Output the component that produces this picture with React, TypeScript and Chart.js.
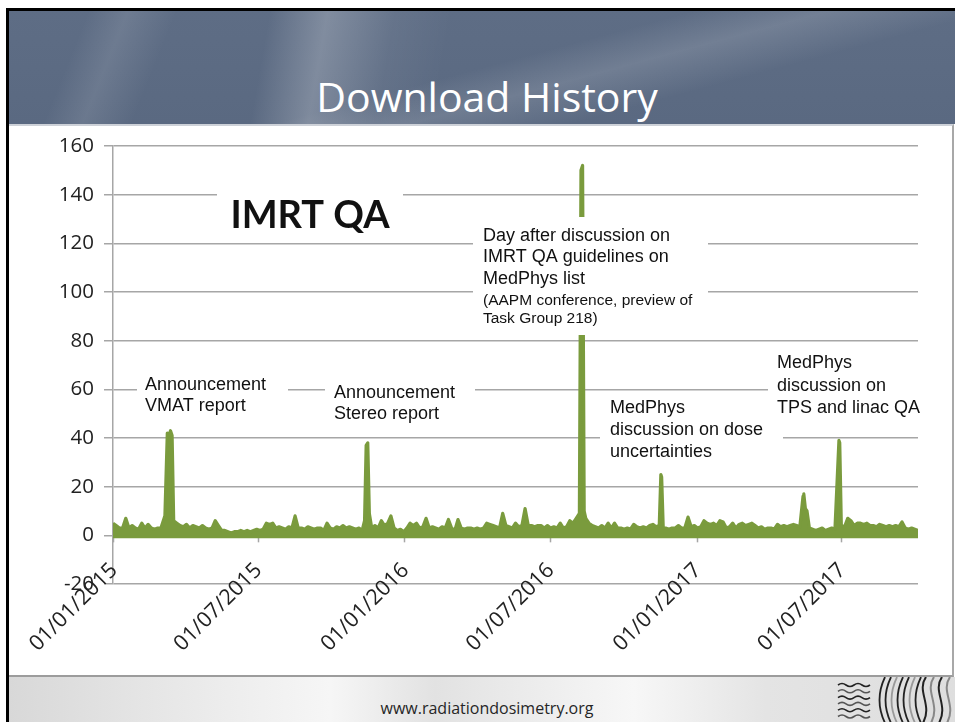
import React, { useEffect, useRef } from 'react';
import { Chart, registerables } from 'chart.js';

Chart.register(...registerables);

// ---------- data ----------
const startDate = '2015-01-01';
const stepDays = 4; // baseline values are read every 4 days from the start date

// estimated daily-download envelope, one value every 4 days from 01/01/2015
const baseline = [
  5, 4, 3, 3, 7, 3, 4, 3, 2.5, 5,
  3, 4.5, 3, 2.5, 3, 3, 4, 8, 4, 5,
  5, 4, 3.5, 4.5, 3, 4, 3.5, 3, 4, 3,
  2.5, 3, 6, 4, 2, 2, 1.5, 1, 1.5, 1.5,
  2, 1.5, 2, 1.5, 2, 2.5, 2, 2.5, 5, 4.5,
  5, 3, 3.5, 3, 2.5, 3.5, 3, 8, 3, 3,
  2.5, 3.5, 3, 2.5, 3, 3, 2, 5, 3, 2.5,
  3.5, 3, 4, 3, 3.5, 3, 2.5, 3, 2, 3,
  3, 3, 4, 3, 6, 4, 5, 8, 3, 2,
  2.5, 1.5, 3, 5, 4, 5, 3, 3.5, 7, 3,
  3.5, 3, 2.5, 3.5, 3, 6.5, 3, 2, 6.5, 3,
  2.5, 3, 3, 2.5, 3, 2.5, 3, 5, 4.5, 4,
  3.5, 3, 9, 4, 3.5, 3, 5, 3.5, 4, 11,
  4, 4, 3.5, 4, 4, 3, 4, 3, 3.5, 3,
  5, 3, 3.5, 6, 5, 7, 10, 10, 7, 5,
  4, 3.5, 3, 4, 3, 5, 3, 5, 3, 3,
  2.5, 3, 2.5, 4.5, 3.5, 3, 3.5, 3, 4, 4.5,
  3.5, 4, 3, 3, 2.5, 3, 3, 4, 3, 3,
  7.5, 3.5, 4, 3, 3.5, 6, 5, 4.5, 5, 4,
  6, 5.5, 3, 3.5, 5, 3, 4.5, 5, 4, 4.5,
  5, 4, 3, 3.5, 2.5, 3, 3, 2.5, 4.5, 3.5,
  4, 3.5, 4, 4.5, 4, 3.5, 6, 10, 3, 2.5,
  2, 2.5, 3, 2, 2.5, 3, 2.5, 3, 4, 3.5,
  7, 6, 4, 5, 5, 4.5, 5, 4, 4, 3.5,
  4.5, 4, 3.5, 4, 3.5, 4, 3.5, 5.5, 3, 2.5,
  3, 2.5, 2,
];

// peaks (dates and values)
const spikeDates = [
  '2015-03-07', '2015-03-10', '2015-03-12', '2015-03-14', '2015-03-16', '2015-03-18',
  '2015-11-12', '2015-11-14', '2015-11-16', '2015-11-18',
  '2016-08-07', '2016-08-09', '2016-08-11', '2016-08-13',
  '2016-11-17', '2016-11-18', '2016-11-20',
  '2017-05-14', '2017-05-15', '2017-05-17', '2017-05-19',
  '2017-06-28', '2017-06-29',
];
const spikeValues = [
  8, 42, 41, 43, 41, 6,
  6, 37, 38, 9,
  9, 150, 152, 10,
  25, 24, 3,
  16, 17, 11, 10,
  39, 38,
];

const tickLabels = ['01/01/2015', '01/07/2015', '01/01/2016', '01/07/2016', '01/01/2017', '01/07/2017'];
const yMin = -20;
const yMax = 160;
const yStep = 20;

// ---------- helpers ----------
const DAY = 86400000;
const t0 = Date.parse(startDate);
const dayOfIso = (iso: string) => Math.round((Date.parse(iso) - t0) / DAY);
const dayOfLabel = (lbl: string) => {
  const [d, m, y] = lbl.split('/');
  return dayOfIso(`${y}-${m}-${d}`);
};
const tickDays = tickLabels.map(dayOfLabel);
const spikeDays = spikeDates.map(dayOfIso);

const points: { x: number; y: number }[] = [];
baseline.forEach((v, i) => {
  const d = i * stepDays;
  if (!spikeDays.some((s) => Math.abs(s - d) <= 1)) points.push({ x: d, y: v });
});
spikeDays.forEach((d, i) => points.push({ x: d, y: spikeValues[i] }));
points.sort((a, b) => a.x - b.x);
const lastDay = (baseline.length - 1) * stepDays;

const GREEN = '#7a9b3d';
const GRID = '#a6a6a6';
const TEXT = '#222222';
const W = 955;
const H = 722;

const annotations = [
  { box: [217, 182, 403, 238], lines: [{ t: 'IMRT QA', y: 216, font: "700 38px Lato", align: 'center', x: 310 }] },
  {
    box: [473, 217, 708, 335],
    lines: [
      { t: 'Day after discussion on', y: 236, font: "18px 'Liberation Sans'", x: 483 },
      { t: 'IMRT QA guidelines on', y: 257, font: "18px 'Liberation Sans'", x: 483 },
      { t: 'MedPhys list', y: 279, font: "18px 'Liberation Sans'", x: 483 },
      { t: '(AAPM conference, preview of', y: 301, font: "15.5px 'Liberation Sans'", x: 483 },
      { t: 'Task Group 218)', y: 319, font: "15.5px 'Liberation Sans'", x: 483 },
    ],
  },
  {
    box: [137, 370, 288, 422],
    lines: [
      { t: 'Announcement', y: 385, font: "18px 'Liberation Sans'", x: 145 },
      { t: 'VMAT report', y: 406, font: "18px 'Liberation Sans'", x: 145 },
    ],
  },
  {
    box: [325, 377, 475, 428],
    lines: [
      { t: 'Announcement', y: 393, font: "18px 'Liberation Sans'", x: 334 },
      { t: 'Stereo report', y: 414, font: "18px 'Liberation Sans'", x: 334 },
    ],
  },
  {
    box: [600, 394, 783, 468],
    lines: [
      { t: 'MedPhys', y: 408, font: "18px 'Liberation Sans'", x: 610 },
      { t: 'discussion on dose', y: 430, font: "18px 'Liberation Sans'", x: 610 },
      { t: 'uncertainties', y: 452, font: "18px 'Liberation Sans'", x: 610 },
    ],
  },
  {
    box: [768, 348, 935, 420],
    lines: [
      { t: 'MedPhys', y: 363, font: "18px 'Liberation Sans'", x: 777 },
      { t: 'discussion on', y: 386, font: "18px 'Liberation Sans'", x: 777 },
      { t: 'TPS and linac QA', y: 408, font: "18px 'Liberation Sans'", x: 777 },
    ],
  },
];

// small tick marks hanging from the zero line, at each date tick
const zeroTicksPlugin = {
  id: 'zeroTicks',
  beforeDatasetsDraw(chart: any) {
    const { ctx } = chart;
    const xs = chart.scales.x;
    const y0 = chart.scales.y.getPixelForValue(0);
    ctx.save();
    ctx.strokeStyle = GRID;
    ctx.lineWidth = 1.5;
    xs.ticks.forEach((t: any) => {
      const px = Math.round(xs.getPixelForValue(t.value)) + 0.5;
      ctx.beginPath();
      ctx.moveTo(px, y0);
      ctx.lineTo(px, y0 + 7);
      ctx.stroke();
    });
    ctx.restore();
  },
};

const annotationPlugin = {
  id: 'notes',
  afterDatasetsDraw(chart: any) {
    const { ctx } = chart;
    ctx.save();
    annotations.forEach((a) => {
      const [x1, y1, x2, y2] = a.box;
      ctx.fillStyle = '#ffffff';
      ctx.fillRect(x1, y1, x2 - x1, y2 - y1);
      a.lines.forEach((l: any) => {
        ctx.font = l.font;
        ctx.fillStyle = '#111111';
        ctx.textBaseline = 'middle';
        ctx.textAlign = l.align || 'left';
        ctx.fillText(l.t, l.x, l.y);
      });
    });
    ctx.restore();
  },
};

// rotated date labels, overlapping the bottom of the plot like the original
const dateLabelPlugin = {
  id: 'dateLabels',
  afterDraw(chart: any) {
    const { ctx } = chart;
    const xs = chart.scales.x;
    const yBase = chart.scales.y.getPixelForValue(yMin) - 17;
    ctx.save();
    ctx.font = "21.5px 'Open Sans'";
    ctx.fillStyle = TEXT;
    ctx.textAlign = 'right';
    ctx.textBaseline = 'middle';
    xs.ticks.forEach((t: any) => {
      const i = tickDays.indexOf(t.value);
      if (i < 0) return;
      const px = xs.getPixelForValue(t.value);
      ctx.save();
      ctx.translate(px + 1, yBase);
      ctx.rotate(-Math.PI / 4);
      ctx.fillText(tickLabels[i], 0, 0);
      ctx.restore();
    });
    ctx.restore();
  },
};

function Logo() {
  const waves = [0, 1, 2, 3, 4, 5].map((i) => {
    const y = 8 + i * 6.3;
    return (
      <path
        key={'w' + i}
        d={`M3 ${y} q4 -3 8 0 t8 0 t8 0 t8 0`}
        stroke={i % 2 ? '#555' : '#222'}
        strokeWidth={1.6}
        fill="none"
      />
    );
  });
  const arcs = [0, 1, 2, 3, 4, 5, 6].map((i) => {
    const x = 44 + i * 6;
    return (
      <path
        key={'a' + i}
        d={`M${x + 6} 0 Q${x - 5} 23 ${x + 6} 46`}
        stroke={i % 3 === 2 ? '#9a9a9a' : '#222'}
        strokeWidth={1.8}
        fill="none"
      />
    );
  });
  const esses = [0, 1, 2, 3].map((i) => {
    const x = 88 + i * 8;
    return (
      <path
        key={'s' + i}
        d={`M${x + 3} 0 C${x - 7} 14 ${x + 10} 28 ${x} 46`}
        stroke={i % 2 ? '#888' : '#222'}
        strokeWidth={2}
        fill="none"
      />
    );
  });
  return (
    <svg width={120} height={45} style={{ position: 'absolute', left: 835, top: 677 }}>
      {waves}
      {arcs}
      {esses}
    </svg>
  );
}

export default function App() {
  const ref = useRef<HTMLCanvasElement | null>(null);

  useEffect(() => {
    if (!ref.current) return;
    const chart = new Chart(ref.current, {
      type: 'line',
      data: {
        datasets: [
          {
            data: points,
            borderColor: GREEN,
            backgroundColor: GREEN,
            borderWidth: 3.2,
            pointRadius: 0,
            tension: 0,
            borderJoinStyle: 'round',
            fill: { value: -1.2 },
          } as any,
        ],
      },
      options: {
        responsive: false,
        animation: false,
        devicePixelRatio: 1,
        events: [],
        layout: { padding: { top: 146, right: 37, bottom: 0, left: 0 } },
        plugins: { legend: { display: false }, tooltip: { enabled: false } },
        scales: {
          x: {
            type: 'linear',
            min: 0,
            max: lastDay,
            grid: { display: false, drawTicks: false },
            border: { display: false },
            afterBuildTicks: (s: any) => {
              s.ticks = tickDays.map((v) => ({ value: v }));
            },
            afterFit: (s: any) => {
              s.height = H - 584;
            },
            ticks: { display: false, autoSkip: false },
          },
          y: {
            min: yMin,
            max: yMax,
            afterFit: (s: any) => {
              s.width = 113;
            },
            ticks: {
              stepSize: yStep,
              padding: 10,
              color: TEXT,
              font: { family: "'Open Sans'", size: 20.5 },
            },
            grid: { color: GRID, lineWidth: 1.5, tickLength: 9 },
            border: { color: GRID, width: 1.5 },
          },
        },
      } as any,
      plugins: [zeroTicksPlugin, annotationPlugin, dateLabelPlugin],
    });
    return () => chart.destroy();
  }, []);

  return (
    <div
      style={{
        position: 'fixed',
        left: 0,
        top: 0,
        width: W,
        height: H,
        background: '#ffffff',
        overflow: 'hidden',
      }}
    >
      {/* slide frame */}
      <div
        style={{
          position: 'absolute',
          left: 6,
          top: 8,
          width: W - 6,
          height: H - 8,
          borderLeft: '3px solid #000',
          borderTop: '3px solid #000',
          boxSizing: 'border-box',
        }}
      />
      {/* header */}
      <div
        style={{
          position: 'absolute',
          left: 9,
          top: 11,
          width: W - 9,
          height: 113,
          background:
            'linear-gradient(112deg, rgba(255,255,255,0) 8%, rgba(255,255,255,0.10) 12%, rgba(255,255,255,0) 17%),' +
            'linear-gradient(100deg, rgba(255,255,255,0) 27%, rgba(255,255,255,0.22) 33%, rgba(255,255,255,0.05) 40%, rgba(255,255,255,0) 46%),' +
            'linear-gradient(165deg, rgba(255,255,255,0) 50%, rgba(255,255,255,0.13) 60%, rgba(255,255,255,0) 72%),' +
            'linear-gradient(180deg, #5e6d85 0%, #5a6981 100%)',
        }}
      />
      <div
        style={{
          position: 'absolute',
          left: 187,
          top: 76,
          width: 600,
          textAlign: 'center',
          fontFamily: "'Open Sans', sans-serif",
          fontSize: 41,
          lineHeight: '41px',
          color: '#ffffff',
        }}
      >
        Download History
      </div>
      {/* chart panel */}
      <div
        style={{
          position: 'absolute',
          left: 9,
          top: 124,
          width: W - 9 - 1,
          height: 553,
          background: '#ffffff',
          borderTop: '2px solid #cdd1d8',
          borderRight: '2px solid #a8a8a8',
          borderBottom: '2px solid #9c9c9c',
          boxSizing: 'border-box',
        }}
      />
      {/* footer */}
      <div
        style={{
          position: 'absolute',
          left: 9,
          top: 677,
          width: W - 9,
          height: 45,
          background:
            'linear-gradient(90deg, #d8d8d8 0%, #ececec 22%, #f6f6f6 34%, #e2e2e2 45%, #efefef 58%, #f7f7f7 66%, #e4e4e4 80%, #dedede 100%)',
        }}
      />
      <div
        style={{
          position: 'absolute',
          left: 287,
          top: 700,
          width: 400,
          textAlign: 'center',
          fontFamily: "'Open Sans', sans-serif",
          fontSize: 16,
          lineHeight: '16px',
          color: '#262626',
        }}
      >
        www.radiationdosimetry.org
      </div>
      <Logo />
      <canvas
        ref={ref}
        width={W}
        height={H}
        style={{ position: 'absolute', left: 0, top: 0, width: W, height: H }}
      />
    </div>
  );
}
